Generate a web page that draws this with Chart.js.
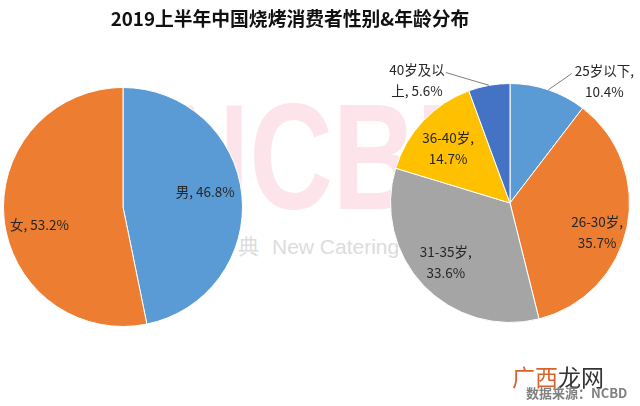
<!DOCTYPE html>
<html>
<head>
<meta charset="utf-8">
<script src="https://cdn.jsdelivr.net/npm/chart.js@4/dist/chart.umd.min.js"></script>
<style>
html,body{margin:0;padding:0;background:#fff;}
#wrap{position:relative;width:640px;height:406px;overflow:hidden;font-family:"Noto Sans CJK SC",sans-serif;}
.abs{position:absolute;white-space:nowrap;}
#title{left:290px;top:6px;transform:translateX(-50%);font-size:18.8px;font-weight:bold;color:#111;line-height:24px;}
#wmBig{left:166px;top:82px;font-family:"Liberation Sans",Arial,sans-serif;font-weight:bold;font-size:150px;line-height:150px;color:#FCE4EA;transform:scaleX(0.77);transform-origin:0 0;}
#wmSmall{left:238px;top:233px;font-family:"Liberation Sans","Noto Sans CJK SC",sans-serif;font-size:21px;line-height:24px;color:#DCDCDC;}
#wmSmall span{margin-right:13px;font-family:"Noto Sans CJK SC",sans-serif;}
#site{left:512px;top:363px;font-size:23px;line-height:26px;color:#333;}
#site .o{color:#D9632A;}
#src{left:526px;top:384px;font-size:13px;line-height:18px;font-weight:bold;color:#808080;}
.chartbox{position:absolute;top:0;width:320px;height:406px;}
</style>
</head>
<body>
<div id="wrap">
  <div class="abs" id="wmBig">NCBD</div>
  <div class="abs" id="wmSmall"><span>典</span>New Catering</div>
  <div class="chartbox" style="left:0"><canvas id="c1" width="320" height="406"></canvas></div>
  <div class="chartbox" style="left:320px"><canvas id="c2" width="320" height="406"></canvas></div>
  <div class="abs" id="title">2019上半年中国烧烤消费者性别&amp;年龄分布</div>
  <div class="abs" id="site"><span class="o">广西</span>龙网</div>
  <div class="abs" id="src">数据来源：NCBD</div>
</div>
<script>
// ---- data ----
const genderLabels = ['男', '女'];
const genderValues = [46.8, 53.2];
const ageLabels = ['25岁以下', '26-30岁', '31-35岁', '36-40岁', '40岁及以上'];
const ageValues = [10.4, 35.7, 33.6, 14.7, 5.6];

// ---- styles ----
const genderColors = ['#5B9BD5', '#ED7D31'];
const ageColors = ['#5B9BD5', '#ED7D31', '#A5A5A5', '#FFC000', '#4472C4'];
// label placement: fraction of radius along slice mid-angle, angular shift (deg), leader line
const genderLabelPos = [{f: 0.70, s: -5}, {f: 0.715, s: -6}];
const ageLabelPos = [{f: 1.29, s: 19, leader: true}, {f: 0.77, s: 7}, {f: 0.73, s: 1}, {f: 0.69, s: -2}, {f: 1.29, s: -27, leader: true}];

function wrapText(ctx, text, maxW) {
  const words = text.split(' ');
  const lines = [];
  let cur = '';
  for (const w of words) {
    const cand = cur ? cur + ' ' + w : w;
    if (ctx.measureText(cand).width <= maxW) { cur = cand; continue; }
    if (cur) { lines.push(cur); cur = ''; }
    let piece = '';
    for (const ch of w) {
      if (piece && ctx.measureText(piece + ch).width > maxW) { lines.push(piece); piece = ch; }
      else piece += ch;
    }
    cur = piece;
  }
  if (cur) lines.push(cur);
  return lines;
}

function makeLabelPlugin(cfg) {
  return {
    id: 'pieLabels',
    afterDatasetsDraw(chart) {
      const ctx = chart.ctx;
      const meta = chart.getDatasetMeta(0);
      const ds = chart.data.datasets[0];
      ctx.save();
      ctx.font = cfg.font;
      ctx.fillStyle = cfg.color;
      ctx.textAlign = 'center';
      ctx.textBaseline = 'middle';
      meta.data.forEach((arc, i) => {
        const p = arc.getProps(['x', 'y', 'startAngle', 'endAngle', 'outerRadius'], true);
        const mid = (p.startAngle + p.endAngle) / 2;
        const pos = cfg.positions[i];
        const a = mid + pos.s * Math.PI / 180;
        const cx = p.x + Math.cos(a) * p.outerRadius * pos.f;
        const cy = p.y + Math.sin(a) * p.outerRadius * pos.f;
        const text = chart.data.labels[i] + ', ' + ds.data[i].toFixed(1) + '%';
        const lines = cfg.maxWidth ? wrapText(ctx, text, cfg.maxWidth) : [text];
        const top = cy - (lines.length - 1) * cfg.lineHeight / 2;
        lines.forEach((ln, k) => ctx.fillText(ln, cx, top + k * cfg.lineHeight));
        if (pos.leader) {
          const ex = p.x + Math.cos(mid) * p.outerRadius;
          const ey = p.y + Math.sin(mid) * p.outerRadius;
          const w = ctx.measureText(lines[0]).width;
          const lx = cx > ex ? cx - w / 2 - 3 : cx + w / 2 + 1;
          const ly = top + 3;
          ctx.strokeStyle = cfg.leaderColor;
          ctx.lineWidth = 1;
          ctx.beginPath();
          ctx.moveTo(ex, ey);
          ctx.lineTo(lx, ly);
          ctx.stroke();
        }
      });
      ctx.restore();
    }
  };
}

function pieChart(id, labels, values, colors, padding, labelCfg) {
  return new Chart(document.getElementById(id), {
    type: 'pie',
    data: {
      labels: labels,
      datasets: [{data: values, backgroundColor: colors, borderColor: '#ffffff', borderWidth: 1}]
    },
    options: {
      responsive: false,
      animation: false,
      layout: {padding: padding},
      plugins: {legend: {display: false}, tooltip: {enabled: false}}
    },
    plugins: [makeLabelPlugin(labelCfg)]
  });
}

pieChart('c1', genderLabels, genderValues, genderColors,
  {left: 3, top: 87, right: 77, bottom: 79},
  {font: '13.5px "Noto Sans CJK SC", sans-serif', color: '#262626', lineHeight: 21, positions: genderLabelPos, leaderColor: '#7F7F7F'});

pieChart('c2', ageLabels, ageValues, ageColors,
  {left: 70, top: 83, right: 10, bottom: 83},
  {font: '13.5px "Noto Sans CJK SC", sans-serif', color: '#262626', lineHeight: 21, maxWidth: 64, positions: ageLabelPos, leaderColor: '#7F7F7F'});
</script>
</body>
</html>
